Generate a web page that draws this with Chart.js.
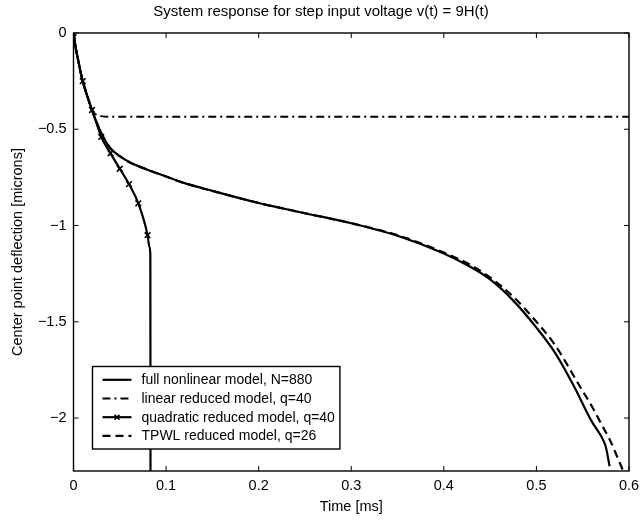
<!DOCTYPE html>
<html><head><meta charset="utf-8">
<script src="https://cdn.jsdelivr.net/npm/chart.js@4/dist/chart.umd.min.js"></script>
<style>html,body{margin:0;padding:0;background:#fff}#wrap{width:642px;height:520px}</style>
</head><body><div id="wrap"><canvas id="c" width="642" height="520"></canvas></div>
<script>
const titleText = 'System response for step input voltage v(t) = 9H(t)';
const xTitle = 'Time [ms]';
const yTitle = 'Center point deflection [microns]';
const xTicks = [0, 0.1, 0.2, 0.3, 0.4, 0.5, 0.6];
const yTicks = [0, -0.5, -1, -1.5, -2];
const seriesNames = ['full nonlinear model, N=880', 'linear reduced model, q=40', 'quadratic reduced model, q=40', 'TPWL reduced model, q=26'];

const fullT = [0, 0.0025, 0.005, 0.0075, 0.01, 0.015, 0.02, 0.025, 0.03, 0.035, 0.04, 0.05, 0.06, 0.08, 0.1, 0.12, 0.15, 0.2, 0.25, 0.3, 0.35, 0.4, 0.425, 0.45, 0.475, 0.5, 0.52, 0.54, 0.56, 0.57, 0.575, 0.579];
const fullV = [0, -0.08, -0.14, -0.2, -0.25, -0.33, -0.4, -0.465, -0.52, -0.565, -0.6, -0.64, -0.67, -0.71, -0.745, -0.78, -0.82, -0.883, -0.936, -0.988, -1.053, -1.145, -1.205, -1.28, -1.39, -1.53, -1.66, -1.83, -2.02, -2.095, -2.15, -2.25];

const linT = [0, 0.0025, 0.005, 0.0075, 0.01, 0.015, 0.02, 0.025, 0.03, 0.04, 0.1, 0.2, 0.3, 0.4, 0.5, 0.6];
const linV = [0, -0.08, -0.14, -0.2, -0.25, -0.33, -0.4, -0.425, -0.432, -0.435, -0.435, -0.435, -0.435, -0.435, -0.435, -0.435];

const quadT = [0, 0.0025, 0.005, 0.0075, 0.01, 0.015, 0.02, 0.025, 0.03, 0.04, 0.05, 0.06, 0.07, 0.08, 0.082, 0.083, 0.0832];
const quadV = [0, -0.08, -0.14, -0.2, -0.25, -0.33, -0.4, -0.47, -0.54, -0.625, -0.705, -0.785, -0.885, -1.05, -1.11, -1.15, -2.6];
const quadMarkT = [0, 0.01, 0.02, 0.03, 0.04, 0.05, 0.06, 0.07, 0.08];

const tpwlT = [0, 0.0025, 0.005, 0.0075, 0.01, 0.015, 0.02, 0.025, 0.03, 0.035, 0.04, 0.05, 0.06, 0.08, 0.1, 0.12, 0.15, 0.2, 0.25, 0.3, 0.35, 0.4, 0.425, 0.45, 0.475, 0.5, 0.52, 0.547, 0.56, 0.57, 0.58, 0.588, 0.596];
const tpwlV = [0, -0.08, -0.14, -0.2, -0.25, -0.33, -0.4, -0.465, -0.52, -0.565, -0.6, -0.64, -0.67, -0.71, -0.745, -0.78, -0.82, -0.883, -0.936, -0.988, -1.05, -1.14, -1.195, -1.27, -1.37, -1.5, -1.62, -1.836, -1.94, -2.03, -2.12, -2.21, -2.3];

const FONT = "'Liberation Sans', Arial, Helvetica, sans-serif";
const pts = (t, v) => t.map((x, i) => ({x: x, y: v[i]}));
const fmtY = v => v === 0 ? '0' : '\u2212' + Math.abs(v);

const styles = [
  {dash: [], width: 2.2, marker: false},
  {dash: [8, 4, 2, 4], width: 1.8, marker: false},
  {dash: [], width: 2.2, marker: true},
  {dash: [8, 5], width: 2.2, marker: false}
];
const dataSets = [pts(fullT, fullV), pts(linT, linV), pts(quadT, quadV), pts(tpwlT, tpwlV)];

const datasets = dataSets.map((d, i) => ({
  label: seriesNames[i],
  data: d,
  showLine: true,
  borderColor: '#000',
  backgroundColor: '#000',
  borderWidth: styles[i].width,
  borderDash: styles[i].dash,
  cubicInterpolationMode: 'monotone',
  pointStyle: 'crossRot',
  pointBorderWidth: 1.6,
  pointBorderColor: '#000',
  pointRadius: styles[i].marker ? (ctx => quadMarkT.includes(ctx.raw && ctx.raw.x) ? 4 : 0) : 0,
  pointHoverRadius: 0
}));

const framePlugin = {
  id: 'frame',
  afterDraw(chart) {
    const ctx = chart.ctx, a = chart.chartArea;
    const xs = chart.scales.x, ys = chart.scales.y;
    ctx.save();
    ctx.strokeStyle = '#000';
    ctx.lineWidth = 1.4;
    ctx.setLineDash([]);
    ctx.strokeRect(a.left, a.top, a.right - a.left, a.bottom - a.top);
    const L = 5;
    const seg = (x1, y1, x2, y2) => { ctx.beginPath(); ctx.moveTo(x1, y1); ctx.lineTo(x2, y2); ctx.stroke(); };
    ctx.lineWidth = 1;
    xTicks.forEach(v => { const p = xs.getPixelForValue(v); seg(p, a.bottom, p, a.bottom - L); seg(p, a.top, p, a.top + L); });
    yTicks.forEach(v => { const p = ys.getPixelForValue(v); seg(a.left, p, a.left + L, p); seg(a.right, p, a.right - L, p); });

    // legend
    ctx.font = '14px ' + FONT;
    const lx = a.left + 19, lb = a.bottom - 22;
    const rowH = 18.7, boxH = 82.5, top = lb - boxH;
    const maxW = Math.max(...seriesNames.map(s => ctx.measureText(s).width));
    const boxW = 49 + maxW + 5;
    ctx.fillStyle = '#fff';
    ctx.fillRect(lx, top, boxW, boxH);
    ctx.lineWidth = 1.4;
    ctx.strokeRect(lx, top, boxW, boxH);
    ctx.textBaseline = 'middle';
    ctx.fillStyle = '#000';
    seriesNames.forEach((s, i) => {
      const y = top + 13.3 + i * rowH;
      ctx.lineWidth = styles[i].width;
      ctx.setLineDash(styles[i].dash);
      seg(lx + 10, y, lx + 39, y);
      ctx.setLineDash([]);
      if (styles[i].marker) {
        ctx.lineWidth = 1.6;
        Chart.helpers.drawPoint(ctx, {pointStyle: 'crossRot', radius: 3.5, borderWidth: 1.6}, lx + 24.5, y);
      }
      ctx.fillText(s, lx + 49, y + 0.5);
    });
    ctx.restore();
  }
};

new Chart(document.getElementById('c'), {
  type: 'scatter',
  data: {datasets},
  options: {
    responsive: false,
    animation: false,
    devicePixelRatio: 1,
    layout: {padding: {top: 0, right: 0, left: 0, bottom: 0}},
    plugins: {
      legend: {display: false},
      tooltip: {enabled: false},
      title: {display: true, text: titleText, color: '#000', font: {family: FONT, size: 15, weight: 'normal'}, padding: {top: 3, bottom: 12}}
    },
    scales: {
      x: {
        type: 'linear', min: 0, max: 0.6,
        afterBuildTicks: s => { s.ticks = xTicks.map(v => ({value: v})); },
        afterFit: s => { s.height = 49; s.paddingRight = 13; s.paddingLeft = 0; },
        grid: {display: false, drawTicks: false},
        border: {display: false},
        ticks: {color: '#000', font: {family: FONT, size: 14.5}, padding: 6, autoSkip: false, maxRotation: 0, callback: v => String(v)},
        title: {display: true, text: xTitle, color: '#000', font: {family: FONT, size: 14.5}, padding: {top: 0, bottom: 4}}
      },
      y: {
        type: 'linear', min: -2.275, max: 0,
        afterBuildTicks: s => { s.ticks = yTicks.map(v => ({value: v})); },
        afterFit: s => { s.width = 73.5; },
        grid: {display: false, drawTicks: false},
        border: {display: false},
        ticks: {color: '#000', font: {family: FONT, size: 14.5}, padding: 7, autoSkip: false, callback: v => fmtY(v)},
        title: {display: true, text: yTitle, color: '#000', font: {family: FONT, size: 14.5}, padding: {top: 9, bottom: 0}}
      }
    }
  },
  plugins: [framePlugin]
});
</script>
</body></html>
